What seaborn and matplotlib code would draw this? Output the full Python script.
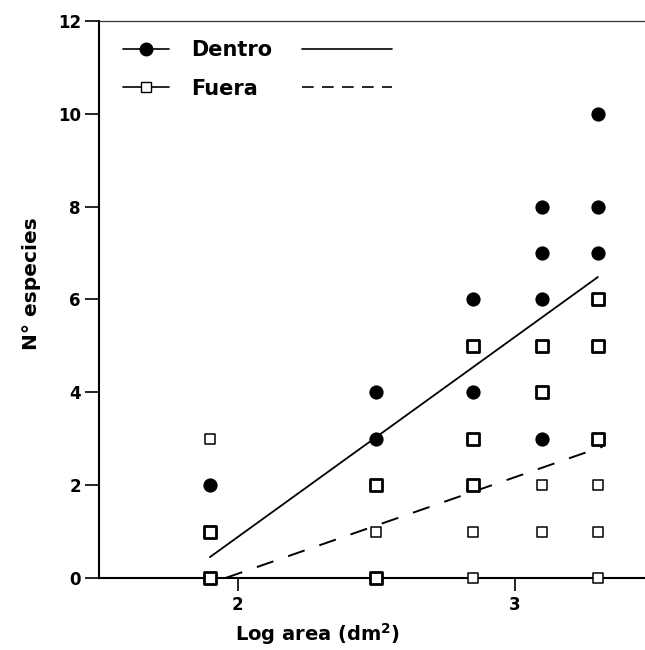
import numpy as np
import pandas as pd
import matplotlib
matplotlib.use("Agg")
import matplotlib.pyplot as plt
import seaborn as sns
from matplotlib.lines import Line2D

# Log area columns and species counts
dentro_x = [1.90, 1.90, 1.90,
            2.50, 2.50, 2.50, 2.50,
            2.85, 2.85, 2.85, 2.85, 2.85,
            3.10, 3.10, 3.10, 3.10, 3.10, 3.10,
            3.30, 3.30, 3.30, 3.30, 3.30, 3.30]
dentro_y = [2, 1, 0,
            4, 3, 2, 0,
            6, 5, 4, 3, 2,
            8, 7, 6, 5, 4, 3,
            10, 8, 7, 6, 5, 3]

fuera_x = [1.90, 1.90, 1.90,
           2.50, 2.50, 2.50,
           2.85, 2.85, 2.85, 2.85, 2.85,
           3.10, 3.10, 3.10, 3.10,
           3.30, 3.30, 3.30, 3.30, 3.30, 3.30]
fuera_y = [3, 1, 0,
           2, 1, 0,
           5, 3, 2, 1, 0,
           5, 4, 2, 1,
           6, 5, 3, 2, 1, 0]

# regression lines as drawn (slope, intercept, x range)
recta_dentro = (4.31, -7.74)
rango_dentro = [1.90, 3.30]
recta_fuera = (2.08, -4.07)
rango_fuera = [1.957, 3.317]

dentro = pd.DataFrame({"x": dentro_x, "y": dentro_y})
fuera = pd.DataFrame({"x": fuera_x, "y": fuera_y})
# points shared by both groups get their own marker
both = dentro.merge(fuera, on=["x", "y"])
solo_dentro = dentro.merge(both, on=["x", "y"], how="left", indicator=True)
solo_dentro = solo_dentro[solo_dentro["_merge"] == "left_only"]
solo_fuera = fuera.merge(both, on=["x", "y"], how="left", indicator=True)
solo_fuera = solo_fuera[solo_fuera["_merge"] == "left_only"]

sns.set_theme(style="ticks")
plt.rcParams["font.family"] = ["DejaVu Sans"]
plt.rcParams["font.weight"] = "bold"
for k in ["text.color", "axes.labelcolor", "xtick.color", "ytick.color", "axes.edgecolor"]:
    plt.rcParams[k] = "black"

fig = plt.figure(figsize=(6.45, 6.5), dpi=100)
ax = fig.add_axes([0.1535, 0.1108, 0.8465, 0.857])

# fitted lines
xd = np.array(rango_dentro)
ax.plot(xd, recta_dentro[0] * xd + recta_dentro[1], color="black", lw=1.3)
xf = np.array(rango_fuera)
ax.plot(xf, recta_fuera[0] * xf + recta_fuera[1], color="black", lw=1.4,
        linestyle=(0, (9, 8)))

sns.scatterplot(data=solo_dentro, x="x", y="y", ax=ax, marker="o", s=105,
                color="black", edgecolor="black", linewidth=0, clip_on=False, zorder=3)
sns.scatterplot(data=solo_fuera, x="x", y="y", ax=ax, marker="s", s=62,
                facecolor="white", edgecolor="black", linewidth=1.1, clip_on=False, zorder=3)
sns.scatterplot(data=both, x="x", y="y", ax=ax, marker="s", s=66,
                facecolor="white", edgecolor="black", linewidth=2.0, clip_on=False, zorder=3)

ax.set_xlim(1.5, 3.47)
ax.set_ylim(0, 12)
ax.set_xticks([2, 3])
ax.set_yticks(range(0, 13, 2))
ax.tick_params(axis="y", direction="out", length=10, width=1.2, pad=3, labelsize=12)
ax.tick_params(axis="x", direction="out", length=9, width=1.2, pad=4, labelsize=12)
for lab in ax.get_xticklabels() + ax.get_yticklabels():
    lab.set_fontweight("bold")

for side in ["left", "bottom"]:
    ax.spines[side].set_linewidth(1.5)
ax.spines["top"].set_linewidth(0.9)
ax.spines["top"].set_color("#333333")
ax.spines["right"].set_visible(False)

ax.set_xlabel(r"Log area (dm$^\mathbf{2}$)", fontsize=14, fontweight="bold")
ax.set_ylabel("N° especies", fontsize=14.5, fontweight="bold")
ax.xaxis.set_label_coords(0.40, -0.077)
ax.yaxis.set_label_coords(-0.106, 0.528)

# legend: marker samples + labels, then line samples to the right
marcas = [Line2D([], [], color="black", lw=1.2, marker="o", markersize=9),
          Line2D([], [], color="black", lw=1.2, marker="s", markersize=6.5,
                 markerfacecolor="white", markeredgewidth=1.0)]
leg1 = ax.legend(marcas, ["Dentro", "Fuera"], loc="upper left",
                 bbox_to_anchor=(0.044, 0.965), frameon=False, borderpad=0,
                 borderaxespad=0, handlelength=2.2, handletextpad=1.05,
                 labelspacing=0.87, prop={"size": 15, "weight": "bold"})
ax.add_artist(leg1)
rectas = [Line2D([], [], color="black", lw=1.2),
          Line2D([], [], color="black", lw=1.2, linestyle=(0, (7, 5)))]
ax.legend(rectas, ["", ""], loc="upper left", bbox_to_anchor=(0.372, 0.965),
          frameon=False, borderpad=0, borderaxespad=0, handlelength=4.3,
          handletextpad=0, labelspacing=0.87, prop={"size": 15, "weight": "bold"})

fig.savefig("out.png", dpi=100)
